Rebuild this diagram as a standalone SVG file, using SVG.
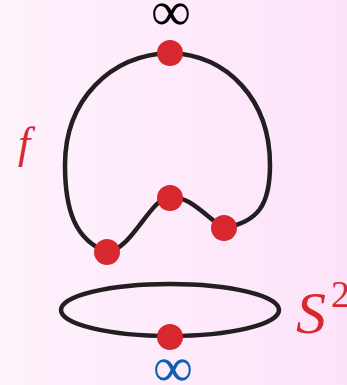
<svg xmlns="http://www.w3.org/2000/svg" width="347" height="385" viewBox="0 0 347 385">
<defs>
<linearGradient id="bg" x1="0" y1="0" x2="1" y2="0">
<stop offset="0" stop-color="#fdf2fc"/>
<stop offset="1" stop-color="#fde3f9"/>
</linearGradient>
</defs>
<style>
.line{fill:none;stroke:#231f20;stroke-width:4.5;stroke-linecap:round;stroke-linejoin:round}
.dot{fill:#d7282f}
</style>
<rect width="347" height="385" fill="url(#bg)"/>
<g id="connectors">
<path id="f-curve" class="line" d="M170 53 C228 55 270 100 270 165 C270 205 258 222 224 228 C205 216 190 196 170 197 C150 198 132 250 107 252 C75 240 65 210 65 165 C65 100 110 55 170 53 Z"/>
<ellipse id="sphere" class="line" cx="170" cy="310" rx="109" ry="26"/>
</g>
<g id="node-top"><circle class="dot" cx="170" cy="53" r="13"/></g>
<g id="node-mid"><circle class="dot" cx="170" cy="198" r="13"/></g>
<g id="node-left"><circle class="dot" cx="107" cy="252" r="13"/></g>
<g id="node-right"><circle class="dot" cx="224" cy="228" r="13"/></g>
<g id="node-bottom"><circle class="dot" cx="170" cy="337" r="13"/></g>
<g id="label-inf-top"><text x="171" y="30" font-size="56" fill="#000" font-family="Liberation Serif, serif" text-anchor="middle">∞</text></g>
<g id="label-inf-bottom"><text x="173" y="386" font-size="56" fill="#0e5fb0" font-family="Liberation Serif, serif" text-anchor="middle">∞</text></g>
<g id="label-f"><text x="18" y="158" font-size="44" fill="#d7282f" font-family="Liberation Serif, serif" font-style="italic">f</text></g>
<g id="label-S2"><text x="296" y="333" font-size="60" fill="#d7282f" font-family="Liberation Serif, serif" font-style="italic">S</text><text x="331" y="307" font-size="38" fill="#d7282f" font-family="Liberation Serif, serif">2</text></g>
</svg>
